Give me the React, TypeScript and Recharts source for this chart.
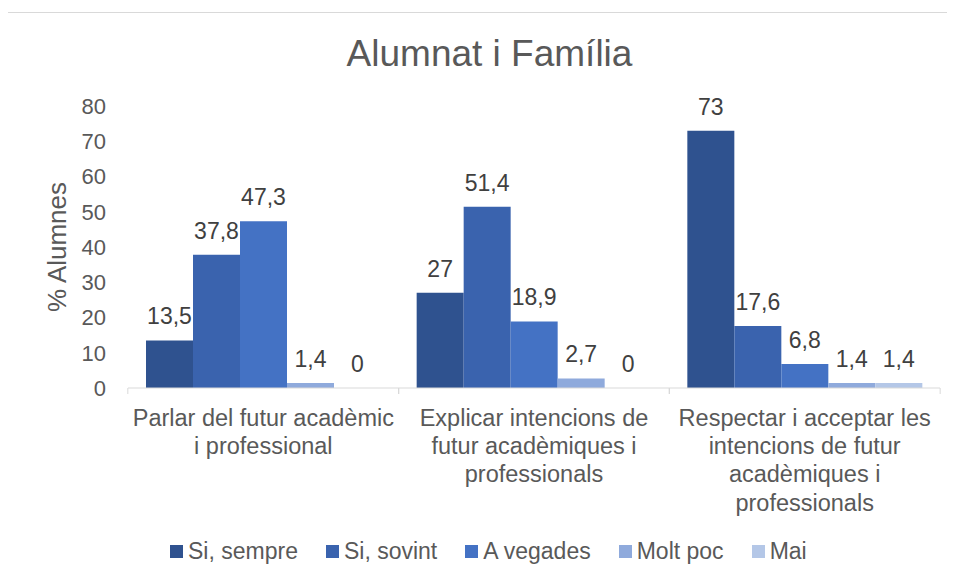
import { BarChart, Bar, XAxis, YAxis, Legend, LabelList, Label } from 'recharts';

const categories = [
  ['Parlar del futur acadèmic', 'i professional'],
  ['Explicar intencions de', 'futur acadèmiques i', 'professionals'],
  ['Respectar i acceptar les', 'intencions de futur', 'acadèmiques i', 'professionals'],
];

const siSempre = [13.5, 27, 73];
const siSovint = [37.8, 51.4, 17.6];
const aVegades = [47.3, 18.9, 6.8];
const moltPoc = [1.4, 2.7, 1.4];
const mai = [0, 0, 1.4];

const yTicks = [0, 10, 20, 30, 40, 50, 60, 70, 80];

const series = [
  { key: 's0', name: 'Si, sempre', values: siSempre, color: '#2F528F' },
  { key: 's1', name: 'Si, sovint', values: siSovint, color: '#3A63AE' },
  { key: 's2', name: 'A vegades', values: aVegades, color: '#4472C4' },
  { key: 's3', name: 'Molt poc', values: moltPoc, color: '#8FAADC' },
  { key: 's4', name: 'Mai', values: mai, color: '#B4C7E7' },
];

const data = categories.map((lines, i) => {
  const row: Record<string, any> = { cat: lines.join(' ') };
  series.forEach((s) => (row[s.key] = s.values[i]));
  return row;
});

const FONT = '"Liberation Sans", Arial, sans-serif';
const GREY = '#595959';
const HALF_BAND = 135.5;

function CatTick(props: any) {
  const { x, y, payload } = props;
  const lines = categories[payload.index] || [];
  return (
    <g>
      <line x1={x - HALF_BAND} x2={x - HALF_BAND} y1={388} y2={394} stroke="#d9d9d9" />
      <line x1={x + HALF_BAND} x2={x + HALF_BAND} y1={388} y2={394} stroke="#d9d9d9" />
      {lines.map((l, i) => (
        <text key={i} x={x} y={y + 30 + i * 28.2} textAnchor="middle" fill={GREY} fontSize={23.5} fontFamily={FONT}>
          {l}
        </text>
      ))}
    </g>
  );
}

function LegendBox() {
  return (
    <div style={{ display: 'flex', alignItems: 'center', fontFamily: FONT, fontSize: 23, color: GREY, whiteSpace: 'nowrap' }}>
      {series.map((s) => (
        <div key={s.key} style={{ display: 'flex', alignItems: 'center', marginRight: 28 }}>
          <span style={{ width: 13, height: 13, background: s.color, marginRight: 5, display: 'inline-block' }} />
          <span>{s.name}</span>
        </div>
      ))}
    </div>
  );
}

const fmt = (v: any) => String(v).replace('.', ',');

export default function App() {
  return (
    <div style={{ position: 'relative', width: 955, height: 581, margin: -8, overflow: 'hidden', background: '#fff' }}>
      <div style={{ position: 'absolute', left: 4, top: 12, width: 980, height: 600, border: '1px solid #d9d9d9' }} />
      <div
        style={{
          position: 'absolute',
          left: 0,
          width: 979,
          top: 33,
          textAlign: 'center',
          fontFamily: FONT,
          fontSize: 37,
          color: GREY,
        }}
      >
        Alumnat i Família
      </div>
      <div style={{ position: 'absolute', left: 0, top: 0 }}>
        <BarChart
          width={955}
          height={581}
          data={data}
          margin={{ top: 106, right: 15, left: 0, bottom: 0 }}
          barCategoryGap={18}
          barGap={0}
        >
          <XAxis
            dataKey="cat"
            height={153}
            interval={0}
            tick={<CatTick />}
            tickLine={false}
            axisLine={{ stroke: '#d9d9d9' }}
          />
          <YAxis
            width={128}
            domain={[0, 80]}
            ticks={yTicks}
            axisLine={false}
            tickLine={false}
            tickSize={0}
            tickMargin={22}
            tick={{ fill: GREY, fontSize: 22, fontFamily: FONT }}
          >
            <Label
              content={({ viewBox }: any) => {
                const cx = 57;
                const cy = viewBox.y + viewBox.height / 2;
                return (
                  <text
                    x={cx}
                    y={cy}
                    transform={`rotate(-90 ${cx} ${cy})`}
                    textAnchor="middle"
                    dominantBaseline="central"
                    fill={GREY}
                    fontSize={26}
                    fontFamily={FONT}
                  >
                    % Alumnes
                  </text>
                );
              }}
            />
          </YAxis>
          <Legend
            verticalAlign="bottom"
            height={40}
            content={<LegendBox />}
            wrapperStyle={{ left: 170, width: 760, top: 538 }}
          />
          {series.map((s) => (
            <Bar
              key={s.key}
              dataKey={s.key}
              name={s.name}
              fill={s.color}
              minPointSize={0.01}
              isAnimationActive={false}
            >
              <LabelList
                dataKey={s.key}
                position="top"
                offset={16}
                formatter={fmt}
                fill="#404040"
                fontSize={23}
                fontFamily={FONT}
              />
            </Bar>
          ))}
        </BarChart>
      </div>
    </div>
  );
}
